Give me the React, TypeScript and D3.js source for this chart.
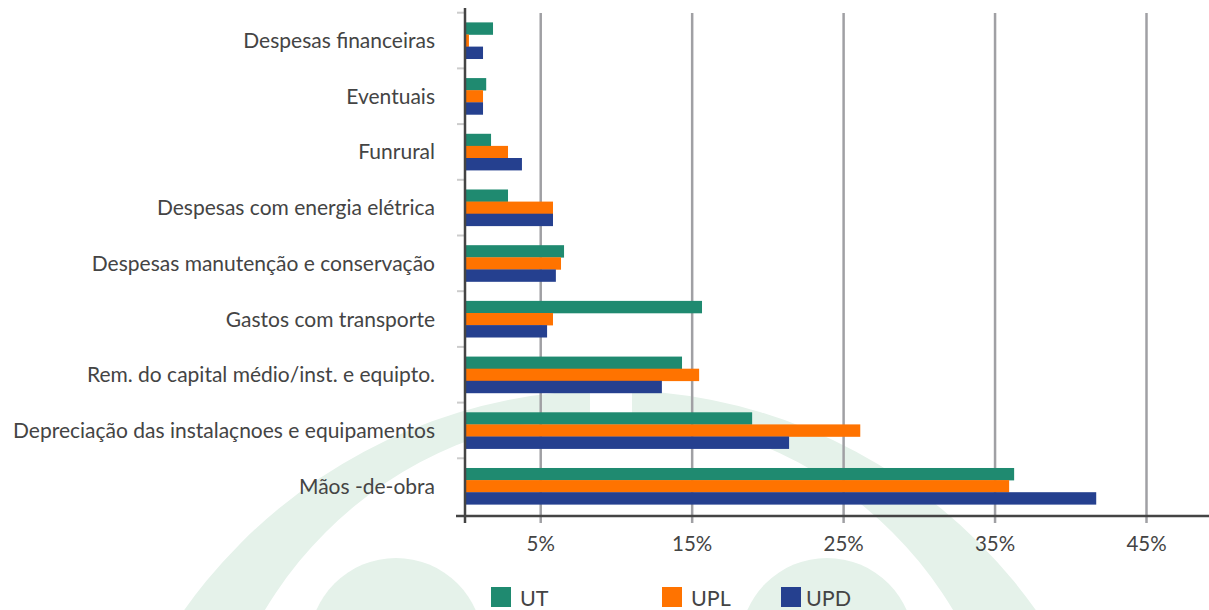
import React from "react";
import * as d3 from "d3";

const categories = [
  "Despesas financeiras",
  "Eventuais",
  "Funrural",
  "Despesas com energia elétrica",
  "Despesas manutenção e conservação",
  "Gastos com transporte",
  "Rem. do capital médio/inst. e equipto.",
  "Depreciação das instalaçnoes e equipamentos",
  "Mãos -de-obra",
];
const seriesNames = ["UT", "UPL", "UPD"];
const utValues = [1.85, 1.4, 1.72, 2.84, 6.54, 15.65, 14.33, 18.96, 36.26];
const uplValues = [0.26, 1.19, 2.84, 5.81, 6.34, 5.81, 15.46, 26.1, 35.93];
const updValues = [1.19, 1.19, 3.76, 5.81, 6.0, 5.42, 13.0, 21.4, 41.68];
const tickValues = [5, 15, 25, 35, 45];
const colors = ["#1f8a70", "#ff7300", "#25408f"];

const W = 1209;
const H = 610;

export default function App() {
  const x = d3.scaleLinear().domain([0, 45]).range([465, 1146.5]);
  const y = d3.scaleBand<string>().domain(categories).range([12.7, 514]).padding(0);
  const ySub = d3
    .scaleBand<string>()
    .domain(seriesNames)
    .range([0, y.bandwidth()])
    .paddingInner(0)
    .paddingOuter(0.8);
  const allValues = [utValues, uplValues, updValues];
  const font = "Lato, 'Noto Sans', sans-serif";
  const legendX = [491, 662, 781];

  return (
    <div style={{ position: "absolute", left: 0, top: 0 }}>
      <svg width={W} height={H} style={{ display: "block", background: "#fff" }}>
        {/* watermark */}
        <g fill="#e5f2ea">
          <path
            d={`M ${610 - 522} 912 A 522 522 0 0 1 ${610 + 522} 912 L ${609 + 401} 816 A 401 401 0 0 0 ${609 - 401} 816 Z`}
            fillRule="evenodd"
          />
          <circle cx={396} cy={645} r={87} />
          <circle cx={827} cy={645} r={87} />
        </g>
        <rect x={590} y={378} width={42} height={36} fill="#fff" />
        {/* gridlines */}
        {tickValues.map((t) => (
          <line
            key={t}
            x1={x(t)}
            x2={x(t)}
            y1={13}
            y2={523}
            stroke="#a0a0a4"
            strokeWidth={2.5}
          />
        ))}
        {/* category ticks */}
        {categories.map((c) => (
          <line
            key={c}
            x1={457}
            x2={464}
            y1={y(c)!}
            y2={y(c)!}
            stroke="#cccccc"
            strokeWidth={2}
          />
        ))}
        {/* bars */}
        {seriesNames.map((s, si) => (
          <g key={s} fill={colors[si]}>
            {categories.map((c, ci) => (
              <rect
                key={c}
                x={x(0)}
                y={y(c)! + ySub(s)!}
                width={x(allValues[si][ci]) - x(0)}
                height={ySub.bandwidth() + 0.3}
              />
            ))}
          </g>
        ))}
        {/* axes */}
        <line x1={465} x2={465} y1={8} y2={523} stroke="#444" strokeWidth={2.5} />
        <line x1={456} x2={1209} y1={516} y2={516} stroke="#444" strokeWidth={2.5} />
        {/* category labels */}
        {categories.map((c) => (
          <text
            key={c}
            x={435}
            y={y(c)! + y.bandwidth() / 2 + 7.5}
            textAnchor="end"
            fontFamily={font}
            fontSize={21}
            fill="#444"
          >
            {c}
          </text>
        ))}
        {/* tick labels */}
        {tickValues.map((t) => (
          <text
            key={t}
            x={x(t)}
            y={551}
            textAnchor="middle"
            fontFamily={font}
            fontSize={20.5}
            fill="#444"
          >
            {t}%
          </text>
        ))}
        {/* legend */}
        {seriesNames.map((s, si) => (
          <g key={s}>
            <rect x={legendX[si]} y={587} width={20} height={20} fill={colors[si]} />
            <text
              x={legendX[si] + (si === 2 ? 25 : 29)}
              y={605.5}
              fontFamily={font}
              fontSize={21.5}
              fill="#444"
            >
              {s}
            </text>
          </g>
        ))}
      </svg>
    </div>
  );
}
